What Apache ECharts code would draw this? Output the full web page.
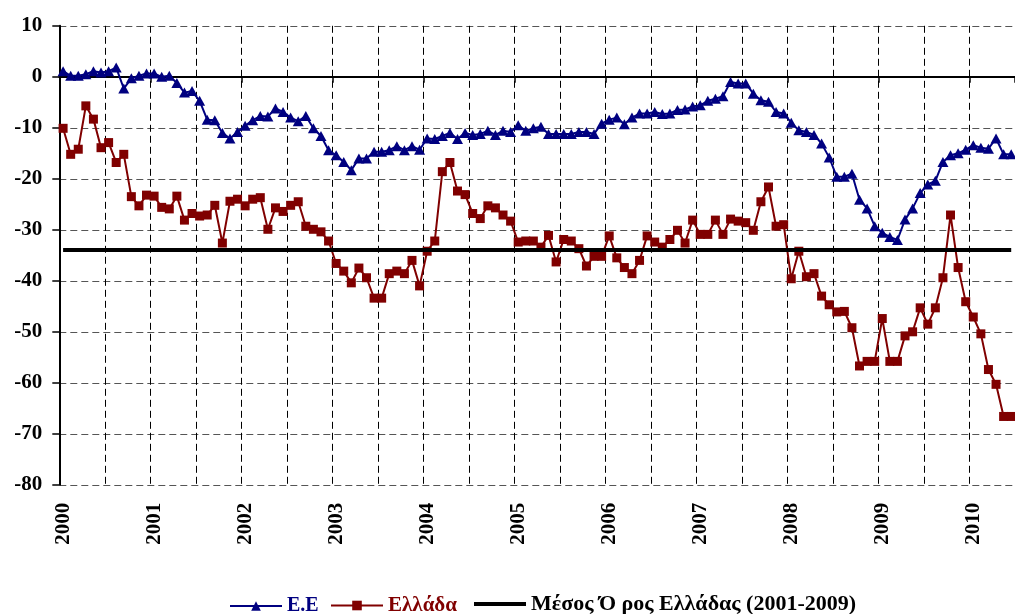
<!DOCTYPE html>
<html>
<head>
<meta charset="utf-8">
<script src="https://cdn.jsdelivr.net/npm/echarts@6/dist/echarts.min.js"></script>
<style>
html,body{margin:0;padding:0;background:#fff;}
#chart{width:1015px;height:614px;}
</style>
</head>
<body>
<div id="chart"></div>
<script>
// ---- data ----
const YEARS = ['2000','2001','2002','2003','2004','2005','2006','2007','2008','2009','2010'];
const MONTHS_LAST_YEAR = 6;
const Y_TICKS = { min: -80, max: 10, step: 10 };

const EE = [
  1.1, 0.2, 0.2, 0.5, 1.1, 0.85, 1.1, 1.8, -2.3, -0.3, 0.2, 0.65,
  0.65, 0, 0.2, -1.2, -3.1, -2.8, -4.7, -8.4, -8.5, -11.0, -12.1, -10.8,
  -9.6, -8.5, -7.7, -7.8, -6.2, -6.9, -8.0, -8.7, -7.7, -10.1, -11.6, -14.4,
  -15.4, -16.7, -18.3, -16.0, -16.0, -14.7, -14.7, -14.4, -13.6, -14.4, -13.6, -14.3,
  -12.1, -12.2, -11.6, -11.0, -12.2, -11.0, -11.4, -11.2, -10.6, -11.4, -10.6, -10.8,
  -9.5, -10.6, -10.1, -9.8, -11.2, -11.2, -11.2, -11.2, -10.8, -10.8, -11.2, -9.2,
  -8.4, -8.0, -9.3, -8.0, -7.2, -7.2, -6.9, -7.3, -7.2, -6.5, -6.4, -5.8,
  -5.6, -4.7, -4.3, -3.8, -1.0, -1.3, -1.3, -3.3, -4.6, -4.9, -6.9, -7.2,
  -9.0, -10.5, -10.8, -11.4, -13.1, -15.8, -19.6, -19.6, -19.0, -24.1, -25.8, -29.3,
  -30.6, -31.4, -32.0, -28.0, -25.8, -22.8, -21.1, -20.4, -16.7, -15.4, -15.0, -14.3,
  -13.4, -13.9, -14.1, -12.1, -15.2, -15.2
];
const GREECE = [
  -10.1, -15.2, -14.2, -5.7, -8.3, -13.9, -12.9, -16.8, -15.2, -23.5, -25.3, -23.2,
  -23.4, -25.6, -25.9, -23.4, -28.1, -26.8, -27.3, -27.1, -25.2, -32.6, -24.4, -24.0,
  -25.3, -24.0, -23.7, -29.9, -25.7, -26.4, -25.2, -24.5, -29.3, -29.9, -30.4, -32.2,
  -36.6, -38.1, -40.4, -37.5, -39.4, -43.4, -43.4, -38.6, -38.1, -38.6, -36.0, -41.0,
  -34.2, -32.2, -18.6, -16.8, -22.4, -23.1, -26.8, -27.8, -25.3, -25.7, -27.1, -28.3,
  -32.4, -32.2, -32.2, -33.4, -31.1, -36.3, -31.9, -32.2, -33.7, -37.1, -35.2, -35.2,
  -31.2, -35.5, -37.4, -38.6, -36.0, -31.2, -32.4, -33.4, -31.9, -30.1, -32.6, -28.1,
  -30.9, -30.9, -28.1, -30.9, -27.9, -28.3, -28.6, -30.1, -24.5, -21.6, -29.3, -29.0,
  -39.6, -34.2, -39.2, -38.6, -43.0, -44.7, -46.1, -46.0, -49.2, -56.7, -55.8, -55.8,
  -47.4, -55.8, -55.8, -50.8, -50.0, -45.3, -48.5, -45.3, -39.4, -27.1, -37.4, -44.1,
  -47.1, -50.4, -57.4, -60.3, -66.6, -66.6
];
const GREECE_MEAN = -34.0;

const NAME_EE = 'E.E';
const NAME_GR = 'Ελλάδα';
const NAME_MEAN = 'Μέσος Ό ρος Ελλάδας (2001-2009)';

// ---- build categories (one per month) ----
const categories = [];
YEARS.forEach(function (y, k) {
  const n = (k === YEARS.length - 1) ? MONTHS_LAST_YEAR : 12;
  for (let m = 1; m <= n; m++) categories.push(y + '-' + String(m).padStart(2, '0'));
});

const FONT = 'Liberation Serif';
const chart = echarts.init(document.getElementById('chart'), null, { renderer: 'canvas' });

function legendAt(left, top, name, color, size, icon) {
  const item = { name: name, textStyle: { color: color } };
  if (icon) item.icon = icon;
  return {
    left: left, top: top,
    itemWidth: 52, itemHeight: 12, itemGap: 10,
    textStyle: { fontFamily: FONT, fontWeight: 'bold', fontSize: size, color: color },
    data: [item]
  };
}

chart.setOption({
  backgroundColor: '#ffffff',
  animation: false,
  grid: { left: 59.3, top: 25.8, width: 959.7, height: 459, containLabel: false },
  legend: [
    legendAt(224, 591, NAME_EE, '#000080', 20),
    legendAt(325, 590, NAME_GR, '#800000', 21),
    legendAt(469, 588, NAME_MEAN, '#000000', 22, 'path://M0,0 L52,0 L52,4 L0,4 Z')
  ],
  xAxis: [
    {
      type: 'category', data: categories, boundaryGap: true, position: 'bottom',
      axisLine: { show: false, onZero: false },
      axisTick: { show: false },
      axisLabel: {
        interval: function (i) { return i % 12 === 0; },
        rotate: 90, margin: 18,
        formatter: function (v) { return v.slice(0, 4); },
        fontFamily: FONT, fontWeight: 'bold', fontSize: 21, color: '#000'
      },
      splitLine: {
        show: true,
        interval: function (i) { return i % 6 === 0; },
        lineStyle: { color: '#000', width: 1, type: [7, 4] }
      }
    },
    {
      type: 'category', data: categories, boundaryGap: true, position: 'bottom',
      axisLine: { show: true, onZero: true, lineStyle: { color: '#000', width: 2 } },
      axisTick: { show: true, interval: function (i) { return i % 12 === 0; }, length: 6, lineStyle: { color: '#000', width: 1.5 } },
      axisLabel: { show: false },
      splitLine: { show: false }
    }
  ],
  yAxis: {
    type: 'value', min: Y_TICKS.min, max: Y_TICKS.max, interval: Y_TICKS.step,
    axisLine: { show: true, lineStyle: { color: '#000', width: 2 } },
    axisTick: { show: true, length: 7, lineStyle: { color: '#000', width: 1.5 } },
    axisLabel: { margin: 17, fontFamily: FONT, fontWeight: 'bold', fontSize: 21, color: '#000' },
    splitLine: { show: true, lineStyle: { color: '#555', width: 1, type: [7, 4] } }
  },
  series: [
    {
      name: NAME_MEAN, type: 'line', data: [], symbol: 'none',
      color: '#000', itemStyle: { color: '#000' }, lineStyle: { color: '#000', width: 4 },
      markLine: {
        silent: true, symbol: ['none', 'none'], label: { show: false },
        lineStyle: { color: '#000', width: 4, type: 'solid' },
        data: [[{ coord: [categories[0], GREECE_MEAN] }, { coord: [categories[categories.length - 1], GREECE_MEAN] }]]
      }
    },
    {
      name: NAME_EE, type: 'line', data: EE, xAxisIndex: 0,
      symbol: 'triangle', symbolSize: [11, 10], showAllSymbol: true,
      color: '#000080', itemStyle: { color: '#000080' },
      lineStyle: { color: '#000080', width: 2 }
    },
    {
      name: NAME_GR, type: 'line', data: GREECE, xAxisIndex: 0,
      symbol: 'rect', symbolSize: 9, showAllSymbol: true,
      color: '#800000', itemStyle: { color: '#800000' },
      lineStyle: { color: '#800000', width: 2 }
    }
  ]
});
</script>
</body>
</html>
